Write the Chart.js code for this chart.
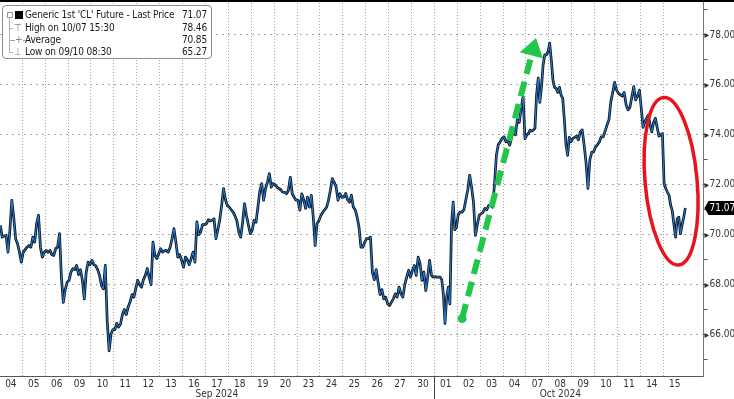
<!DOCTYPE html>
<html>
<head>
<meta charset="utf-8">
<script src="https://cdn.jsdelivr.net/npm/chart.js@4.4.1/dist/chart.umd.min.js"></script>
<style>
  html, body { margin: 0; padding: 0; background: #ffffff; }
  #wrap { position: relative; width: 734px; height: 399px; overflow: hidden; background: #fff; }
  canvas { display: block; }
  #legend {
    position: absolute; left: 2px; top: 5px; width: 210px; height: 54px;
    box-sizing: border-box; border: 1px solid #8c8c8c; border-radius: 4px; background: #fff;
    font-family: 'DejaVu Sans Condensed', 'Liberation Sans', sans-serif;
    font-size: 10px; letter-spacing: -0.15px; color: #1a1a1a;
  }
  #legend .row { position: absolute; left: 22px; right: 4px; height: 12px; line-height: 12px; white-space: nowrap; }
  #legend .row .v { position: absolute; right: 0; top: 0; }
  #legend .ico { position: absolute; color: #8a8a8a; font-size: 10px; line-height: 12px; }
  #legend .tree { position: absolute; background: #b0b0b0; }
</style>
</head>
<body>
<div id="wrap">
  <canvas id="c" width="734" height="399"></canvas>
  <div id="legend">
    <div class="tree" style="left:6px;top:12px;width:1px;height:34px;"></div>
    <div class="tree" style="left:6px;top:22px;width:4px;height:1px;"></div>
    <div class="tree" style="left:6px;top:34px;width:4px;height:1px;"></div>
    <div class="tree" style="left:6px;top:46px;width:4px;height:1px;"></div>
    <div style="position:absolute;left:4px;top:6px;width:4px;height:4px;border:1px solid #9a9a9a;"></div>
    <div style="position:absolute;left:12px;top:5px;width:8px;height:8px;background:#000;"></div>
    <span class="ico" style="left:11px;top:16px;">⊤</span>
    <span class="ico" style="left:9px;top:28px;">-+-</span>
    <span class="ico" style="left:11px;top:40px;">⊥</span>
    <div class="row" style="top:3px;"><span id="lg0"></span><span class="v" id="lv0"></span></div>
    <div class="row" style="top:16px;"><span id="lg1"></span><span class="v" id="lv1"></span></div>
    <div class="row" style="top:28px;"><span id="lg2"></span><span class="v" id="lv2"></span></div>
    <div class="row" style="top:40px;"><span id="lg3"></span><span class="v" id="lv3"></span></div>
  </div>
</div>
<script>
// ---------------- data ----------------
const dayLabels = ['04','05','06','09','10','11','12','13','16','17','18','19','20','23','24','25','26','27','30',
                   '01','02','03','04','07','08','09','10','11','14','15'];
const monthLabels = ['Sep 2024', 'Oct 2024'];
const monthStartIdx = [0, 19];
const yTickValues = [65,66,67,68,69,70,71,72,73,74,75,76,77,78,79];
const yLabelValues = [66,68,70,72,74,76,78];

const legendNames = ["Generic 1st 'CL' Future - Last Price", 'High on 10/07 15:30', 'Average', 'Low on 09/10 08:30'];
const legendValues = ['71.07', '78.46', '70.85', '65.27'];
const lastPrice = 71.07;

// intraday price samples, one array per trading day (evenly spaced within the day)
const sep04 = [70.37, 69.90, 69.95, 69.97, 69.30, 70.17, 71.38, 70.71, 69.84, 69.64, 69.30, 68.90];
const sep05 = [69.30, 69.40, 69.50, 69.57, 69.50, 69.90, 69.70, 70.44, 70.78, 69.50, 69.10, 69.30];
const sep06 = [69.37, 69.30, 69.37, 69.20, 69.17, 69.44, 69.50, 70.04, 68.30, 67.29, 67.80, 68.10];
const sep09 = [68.17, 68.50, 68.64, 68.60, 68.77, 68.40, 68.60, 68.17, 67.43, 68.50, 68.90, 68.80];
const sep10 = [68.97, 68.80, 68.75, 68.60, 68.37, 67.96, 67.83, 68.77, 66.56, 65.35, 66.02, 66.20];
const sep11 = [66.20, 66.45, 66.30, 66.43, 66.80, 67.00, 66.80, 67.10, 67.30, 67.60, 67.50, 67.85];
const sep12 = [68.17, 68.00, 67.90, 68.20, 68.37, 68.64, 68.30, 68.00, 69.70, 69.17, 69.04, 69.24];
const sep13 = [69.44, 69.30, 69.35, 69.37, 69.30, 69.50, 69.84, 70.24, 69.70, 69.10, 69.20, 68.97];
const sep16 = [68.70, 69.10, 69.00, 68.80, 69.04, 69.30, 68.90, 70.51, 70.00, 70.10, 70.40, 70.40];
const sep17 = [70.44, 70.60, 70.55, 70.58, 70.64, 69.84, 70.20, 70.60, 71.18, 71.85, 71.40, 71.15];
const sep18 = [71.10, 71.00, 70.90, 70.75, 70.55, 70.10, 69.90, 70.50, 71.24, 70.77, 70.40, 70.04];
const sep19 = [70.17, 70.57, 70.50, 71.10, 71.75, 72.05, 71.38, 71.85, 72.11, 72.45, 71.90, 72.05];
const sep20 = [72.00, 71.90, 71.85, 71.80, 71.70, 71.70, 71.64, 71.78, 72.30, 71.64, 71.50, 71.38];
const sep23 = [71.38, 70.98, 71.64, 71.40, 71.05, 71.50, 71.10, 71.58, 70.71, 69.57, 70.45, 70.57];
const sep24 = [70.77, 70.90, 71.00, 71.10, 71.38, 71.78, 72.25, 72.10, 71.91, 71.38, 71.64, 71.50];
const sep25 = [71.50, 71.65, 71.40, 71.30, 71.58, 71.11, 71.00, 70.71, 70.30, 69.50, 69.50, 69.70];
const sep26 = [69.84, 69.84, 69.90, 68.50, 68.20, 68.60, 68.10, 67.60, 67.80, 67.43, 67.50, 67.23];
const sep27 = [67.16, 67.30, 67.43, 67.63, 67.50, 67.90, 67.63, 67.50, 68.00, 68.30, 68.57, 68.30];
const sep30 = [68.57, 68.77, 68.37, 69.10, 68.84, 68.17, 68.50, 67.76, 68.30, 68.97, 68.37, 68.30];
const oct01 = [68.32, 68.30, 68.30, 68.30, 68.20, 67.63, 66.45, 67.50, 67.90, 67.23, 70.40, 71.31, 70.20, 70.30];
const oct02 = [70.80, 70.91, 70.90, 71.00, 71.40, 71.80, 72.38, 71.90, 71.31, 69.97, 70.40, 70.78];
const oct03 = [70.84, 70.90, 71.05, 71.00, 71.18, 71.18, 71.10, 72.00, 73.18, 73.60, 73.72, 73.86];
const oct04 = [73.92, 73.72, 73.75, 73.59, 73.90, 74.19, 74.00, 74.60, 74.50, 75.06, 75.53, 73.85];
const oct07 = [73.99, 74.05, 74.19, 74.15, 74.19, 74.26, 75.60, 76.27, 75.30, 75.93, 76.80, 77.20, 77.20, 77.33];
const oct08 = [77.67, 77.00, 76.20, 75.90, 75.86, 75.70, 75.90, 75.59, 75.46, 74.60, 73.60, 73.18, 73.90, 73.72];
const oct09 = [73.85, 73.90, 73.95, 73.80, 74.12, 74.20, 73.59, 72.90, 71.85, 73.00, 73.30, 73.32];
const oct10 = [73.52, 73.60, 73.72, 73.92, 73.92, 74.15, 74.39, 74.60, 75.33, 75.70, 76.10, 75.79];
const oct11 = [75.66, 75.60, 75.55, 75.70, 75.20, 75.00, 75.10, 75.50, 75.93, 75.40, 75.55, 75.79];
const oct14 = [75.06, 74.30, 74.52, 74.66, 74.79, 74.40, 74.12, 74.50, 74.66, 74.30, 73.95, 74.00, 74.05];
const oct15 = [72.05, 71.85, 71.71, 71.58, 71.18, 70.95, 70.40, 69.90, 70.64, 70.70, 70.04, 70.40, 70.71, 71.07];

const daySeries = [sep04, sep05, sep06, sep09, sep10, sep11, sep12, sep13, sep16, sep17, sep18, sep19, sep20,
                   sep23, sep24, sep25, sep26, sep27, sep30, oct01, oct02, oct03, oct04, oct07, oct08, oct09,
                   oct10, oct11, oct14, oct15];

// annotation anchors in data units (day index, price)
const arrowFrom = {x: 20.21, y: 66.64};
const arrowTo   = {x: 23.44, y: 77.88};
const ellipseCenter = {x: 29.34, y: 72.14};

// ---------------- build ----------------
for (let i = 0; i < 4; i++) {
  document.getElementById('lg' + i).textContent = legendNames[i];
  document.getElementById('lv' + i).textContent = legendValues[i];
}

function buildPoints() {
  const pts = [];
  daySeries.forEach((arr, i) => {
    arr.forEach((v, j) => pts.push({x: i + (j + 0.5) / arr.length, y: v}));
  });
  return pts;
}

const nDays = dayLabels.length;
const monthCenters = monthStartIdx.map((s, k) => (s + (k + 1 < monthStartIdx.length ? monthStartIdx[k + 1] : nDays)) / 2);

const FONT = "'DejaVu Sans Condensed', 'Liberation Sans', sans-serif";
Chart.defaults.font.family = FONT;
Chart.defaults.font.size = 10;
Chart.defaults.color = '#333';

const X_MIN = 0.026, X_MAX = 30.756;

const decor = {
  id: 'decor',
  afterDatasetsDraw(chart) {
    const ctx = chart.ctx, xs = chart.scales.x, ys = chart.scales.y;
    ctx.save();
    // red ellipse
    ctx.strokeStyle = '#e8141b';
    ctx.lineWidth = 3.5;
    ctx.beginPath();
    ctx.ellipse(xs.getPixelForValue(ellipseCenter.x), ys.getPixelForValue(ellipseCenter.y), 26, 84, -0.09, 0, Math.PI * 2);
    ctx.stroke();
    // green dashed arrow
    const x0 = xs.getPixelForValue(arrowFrom.x), y0 = ys.getPixelForValue(arrowFrom.y);
    const x1 = xs.getPixelForValue(arrowTo.x), y1 = ys.getPixelForValue(arrowTo.y);
    const len = Math.hypot(x1 - x0, y1 - y0), ux = (x1 - x0) / len, uy = (y1 - y0) / len;
    const px = -uy, py = ux, headL = 18, headW = 12;
    const bx = x1 - ux * headL, by = y1 - uy * headL;
    ctx.strokeStyle = '#22c74a';
    ctx.fillStyle = '#22c74a';
    ctx.lineWidth = 6;
    ctx.setLineDash([15, 8]);
    ctx.beginPath(); ctx.moveTo(x0, y0); ctx.lineTo(bx, by); ctx.stroke();
    ctx.setLineDash([]);
    ctx.beginPath(); ctx.arc(x0, y0, 4.5, 0, Math.PI * 2); ctx.fill();
    ctx.beginPath();
    ctx.moveTo(x1, y1);
    ctx.lineTo(bx + px * headW, by + py * headW);
    ctx.lineTo(bx - px * headW, by - py * headW);
    ctx.closePath(); ctx.fill();
    ctx.restore();
  },
  afterDraw(chart) {
    const ctx = chart.ctx, xs = chart.scales.x, ys = chart.scales.y, area = chart.chartArea;
    ctx.save();
    // top black bar
    ctx.fillStyle = '#000';
    ctx.fillRect(0, 0, chart.width, 2);
    // month separator below axis
    const sx = Math.round(xs.getPixelForValue(monthStartIdx[1])) + 0.5;
    ctx.strokeStyle = '#444';
    ctx.lineWidth = 1;
    ctx.beginPath(); ctx.moveTo(sx, area.bottom); ctx.lineTo(sx, chart.height); ctx.stroke();
    // major tick arrows on the right axis
    ctx.fillStyle = '#333';
    yLabelValues.forEach(v => {
      const y = Math.round(ys.getPixelForValue(v)) + 0.5;
      ctx.beginPath();
      ctx.moveTo(area.right + 1, y - 2.5);
      ctx.lineTo(area.right + 5.5, y);
      ctx.lineTo(area.right + 1, y + 2.5);
      ctx.closePath(); ctx.fill();
    });
    // last price tag
    const ly = ys.getPixelForValue(lastPrice);
    const lx = area.right + 1;
    ctx.fillStyle = '#000';
    ctx.beginPath();
    ctx.moveTo(lx, ly);
    ctx.lineTo(lx + 4, ly - 7);
    ctx.lineTo(chart.width, ly - 7);
    ctx.lineTo(chart.width, ly + 7);
    ctx.lineTo(lx + 4, ly + 7);
    ctx.closePath(); ctx.fill();
    ctx.fillStyle = '#fff';
    ctx.font = '10px ' + FONT;
    ctx.textBaseline = 'middle';
    ctx.textAlign = 'left';
    ctx.fillText(lastPrice.toFixed(2), lx + 5, ly + 0.5);
    ctx.restore();
  }
};

const bg = {
  id: 'bg',
  beforeDraw(chart) {
    const ctx = chart.ctx;
    ctx.save(); ctx.fillStyle = '#fff'; ctx.fillRect(0, 0, chart.width, chart.height); ctx.restore();
  }
};

new Chart(document.getElementById('c'), {
  type: 'line',
  data: {
    datasets: [
      { label: 'close', data: buildPoints(), borderColor: '#1e90ff', borderWidth: 0.9, pointRadius: 0, tension: 0, order: 0 },
      { label: 'bars', data: buildPoints(), borderColor: '#111111', borderWidth: 2.7, pointRadius: 0, tension: 0, order: 1, borderJoinStyle: 'round' }
    ]
  },
  options: {
    responsive: false,
    animation: false,
    devicePixelRatio: 1,
    layout: { padding: 0 },
    plugins: { legend: { display: false }, tooltip: { enabled: false } },
    scales: {
      x: {
        type: 'linear', position: 'bottom', weight: 0,
        min: X_MIN, max: X_MAX,
        afterBuildTicks(scale) { scale.ticks = dayLabels.map((_, i) => ({ value: i })); },
        afterFit(scale) { scale.height = 12; scale.paddingLeft = 0; scale.paddingRight = 0; },
        ticks: {
          autoSkip: false, maxRotation: 0, minRotation: 0, padding: 2, labelOffset: 11.45,
          color: '#333',
          callback: (v, i) => dayLabels[i]
        },
        grid: {
          drawTicks: false,
          color: ctx => (ctx.index === 0 ? 'rgba(0,0,0,0)' : '#a6a6a6'),
          lineWidth: 1
        },
        border: { display: true, color: '#555', width: 1, dash: [1, 2] }
      },
      xm: {
        type: 'linear', position: 'bottom', weight: 1,
        min: X_MIN, max: X_MAX,
        afterBuildTicks(scale) { scale.ticks = monthCenters.map(v => ({ value: v })); },
        afterFit(scale) { scale.height = 11; scale.paddingLeft = 0; scale.paddingRight = 0; },
        ticks: {
          autoSkip: false, maxRotation: 0, padding: 0, color: '#333',
          callback: (v, i) => monthLabels[i]
        },
        grid: { display: false, drawTicks: false },
        border: { display: false }
      },
      y: {
        type: 'linear', position: 'right',
        min: 64.34, max: 79.40,
        afterBuildTicks(scale) { scale.ticks = yTickValues.map(v => ({ value: v })); },
        afterFit(scale) { scale.width = 30.5; scale.paddingTop = 0; scale.paddingBottom = 0; },
        ticks: {
          padding: 2, color: '#333',
          callback: v => (yLabelValues.includes(v) ? v.toFixed(2) : '')
        },
        grid: {
          drawTicks: true, tickLength: 4, tickWidth: 1, tickColor: '#555', tickBorderDash: [],
          color: ctx => (ctx.tick && yLabelValues.includes(ctx.tick.value) ? '#a6a6a6' : 'rgba(0,0,0,0)'),
          lineWidth: 1
        },
        border: { display: true, color: '#777', width: 1, dash: [2, 4] }
      }
    }
  },
  plugins: [bg, decor]
});
</script>
</body>
</html>
